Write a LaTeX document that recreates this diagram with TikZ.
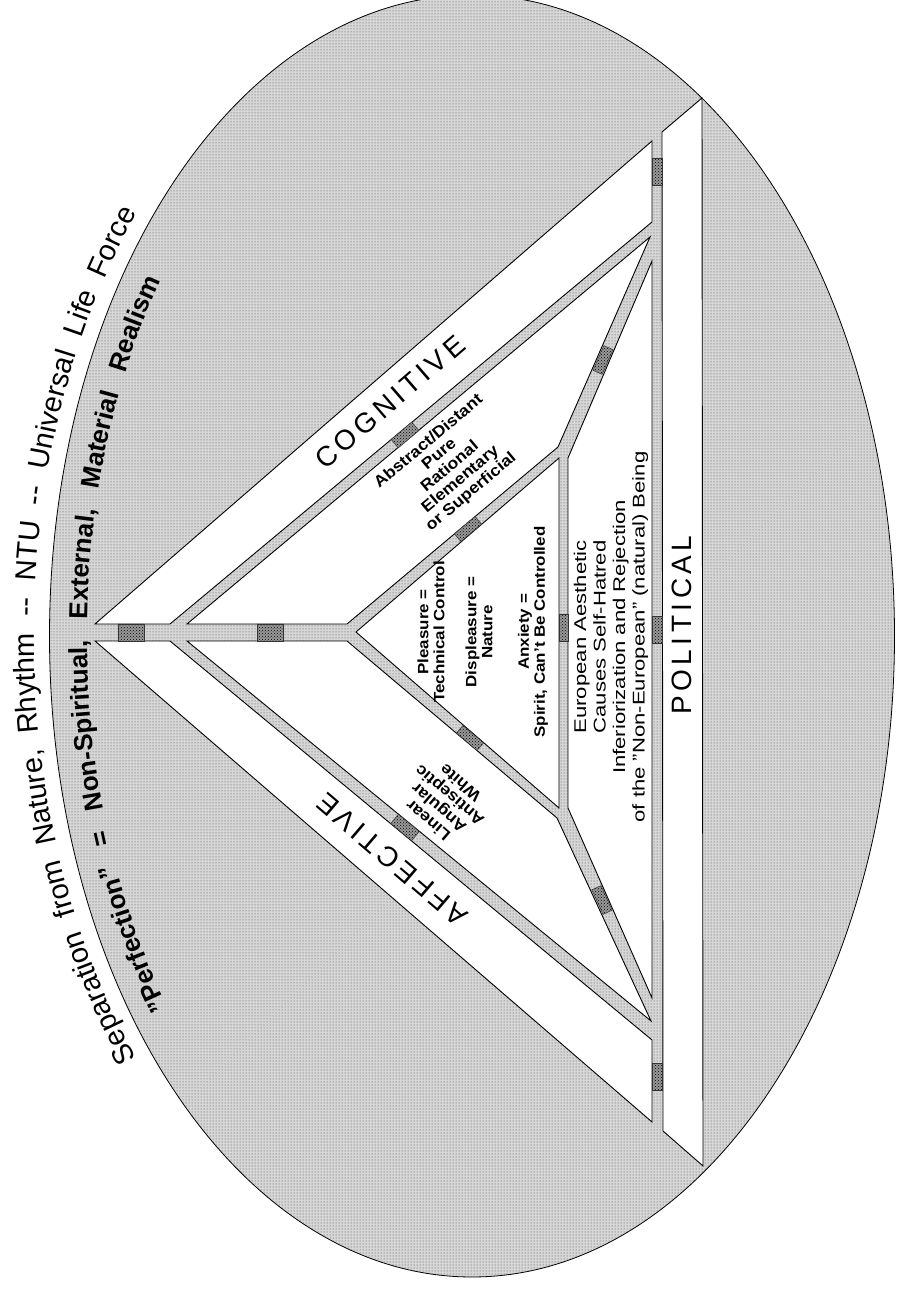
\documentclass[tikz,border=0pt]{standalone}
\usepackage{fontspec}
\setmainfont{Liberation Sans}
\newfontfamily\bandfont[LetterSpace=15]{Liberation Sans}
\newfontfamily\polfont[LetterSpace=16]{Liberation Sans}
\newcommand\sepfont{\fontsize{29}{31}\selectfont}
\newcommand\perffont{\bfseries\fontsize{26}{28}\selectfont}
\usetikzlibrary{patterns,decorations.text}
\tikzset{
  screen/.style={preaction={fill=black!16}, pattern=dots, pattern color=black!70},
  band/.style={draw=black, line width=0.9pt, fill=white},
  darkbox/.style={draw=black!80, line width=0.5pt, preaction={fill=black!40},
    pattern=crosshatch dots, pattern color=black, minimum width=27pt,
    minimum height=10pt, inner sep=0pt},
  bandlabel/.style={font=\bandfont\fontsize{28}{30}\selectfont, inner sep=0pt},
  traits/.style={font=\bfseries\fontsize{15}{16}\selectfont, align=center, inner sep=0pt},
  aesthetic/.style={font=\fontsize{17}{19.5}\selectfont, align=center, inner sep=0pt}
}
\begin{document}
\begin{tikzpicture}[x=1pt, y=1pt]
\useasboundingbox (0,0) rectangle (899,1289);
\draw[screen, line width=0.8pt] (472,653) ellipse [x radius=422.5, y radius=641];

\draw[band] (95,665) -- (652,1148) -- (652,1067) -- (170,665) -- cycle;
\draw[band] (187,665) -- (650,1052) -- (558,842) -- (347,665) -- cycle;
\draw[band] (356,657) -- (559,831) -- (559,481) -- cycle;
\draw[band] (187,648) -- (651,268) -- (557,471) -- (347,648) -- cycle;
\draw[band] (95,648) -- (170,648) -- (652,249) -- (652,167) -- cycle;
\draw[band] (568,831) -- (652,1028) -- (652,291) -- (568,481) -- cycle;
\draw[band] (662,1157) -- (702,1191) -- (703,123) -- (663,158) -- cycle;

\node[darkbox, minimum width=26pt, minimum height=17pt] (hbox1) at (131,656.5) {};
\node[darkbox, minimum width=26pt, minimum height=17pt] (hbox2) at (270,656.5) {};
\node[darkbox, rotate=40, minimum height=11pt] (cbox) at (405,854) {};
\node[darkbox, rotate=40] (ubox) at (468,760) {};
\node[darkbox, rotate=66.5] (ucbox) at (603,929) {};
\node[darkbox, rotate=90] (vbox1) at (657,1117) {};
\node[darkbox, rotate=90] (vbox2) at (657,659) {};
\node[darkbox, rotate=90] (vbox3) at (657,212) {};
\node[darkbox, rotate=90, minimum height=9pt] (ivbox) at (563.5,661) {};
\node[darkbox, rotate=-39.6, minimum height=12pt] (abox) at (405,461.5) {};
\node[darkbox, rotate=-40.5] (lbox) at (470,551) {};
\node[darkbox, rotate=-65.5] (lcbox) at (602,389) {};

\path[decorate, decoration={text along path, text align={fit to path stretching spaces},
  text={|\sepfont|Separation from Nature, Rhythm -- NTU -- Universal Life Force}}]
  (472,653) ++(220:438 and 657) arc[start angle=220, end angle=140, x radius=438, y radius=657];
\path[decorate, decoration={text along path, text align={fit to path stretching spaces},
  text={|\perffont|"Perfection" = Non-Spiritual, External, Material Realism}}]
  (472,653) ++(218:385 and 604) arc[start angle=218, end angle=144, x radius=385, y radius=604];

\node[bandlabel, rotate=40.8] (cognitive) at (390,887) {COGNITIVE};
\node[bandlabel, rotate=139.5] (affective) at (392,429) {AFFECTIVE};
\node[font=\polfont\fontsize{28}{30}\selectfont, inner sep=0pt, rotate=90] (political) at (682,664) {POLITICAL};

\node[traits, font=\bfseries\fontsize{16}{16.5}\selectfont, rotate=40, xscale=1.1] (cogtraits) at (450,822) {Abstract/Distant\\Pure\\Rational\\Elementary\\or Superficial};
\node[traits, font=\bfseries\fontsize{16}{16.5}\selectfont, rotate=139.5, xscale=1.1] (afftraits) at (444,487) {Linear\\Angular\\Antiseptic\\White};
\node[traits, rotate=90, xscale=1.13] (pleasure) at (431,657) {Pleasure =\\Technical Control};
\node[traits, rotate=90, xscale=1.13] (displeasure) at (479,657) {Displeasure =\\Nature};
\node[traits, rotate=90, xscale=1.13] (anxiety) at (533,657) {Anxiety =\\Spirit, Can't Be Controlled};
\node[aesthetic, rotate=90, xscale=1.3] (european) at (611,652) {European Aesthetic\\Causes Self-Hatred\\Inferiorization and Rejection\\of the "Non-European" (natural) Being};
\end{tikzpicture}
\end{document}
